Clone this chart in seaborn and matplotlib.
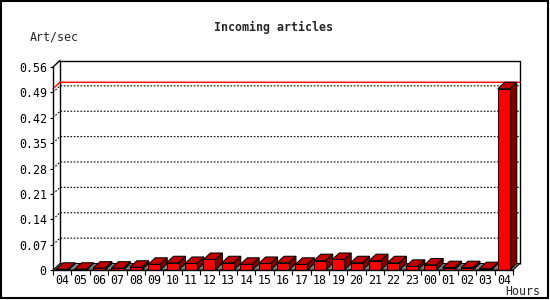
import numpy as np
import pandas as pd
import matplotlib
matplotlib.use("Agg")
import matplotlib.pyplot as plt
from matplotlib.patches import Polygon, Rectangle
import seaborn as sns

# ---- data ----
hours = ["04", "05", "06", "07", "08", "09", "10", "11", "12", "13", "14", "15", "16",
         "17", "18", "19", "20", "21", "22", "23", "00", "01", "02", "03", "04"]
values = [0.002, 0.002, 0.005, 0.005, 0.0075, 0.0157, 0.020, 0.018, 0.029, 0.020, 0.0157,
          0.018, 0.020, 0.0157, 0.0257, 0.029, 0.020, 0.0257, 0.020, 0.0101, 0.0138,
          0.0064, 0.0064, 0.0037, 0.50]
yticks = [0, 0.07, 0.14, 0.21, 0.28, 0.35, 0.42, 0.49, 0.56]
ytick_labels = ["0", "0.07", "0.14", "0.21", "0.28", "0.35", "0.42", "0.49", "0.56"]
title = "Incoming articles"
ylabel = "Art/sec"
xlabel = "Hours"

sns.set_style("white")
plt.rcParams["font.family"] = ["DejaVu Sans Mono", "DejaVu Sans"]

W, H = 550, 300
fig = plt.figure(figsize=(W / 100, H / 100), dpi=100)
fig.patch.set_facecolor("white")
ax = fig.add_axes([53 / W, (H - 270) / H, 460 / W, 203 / H])
ax.set_facecolor("none")

n = len(values)
ymax = 0.56
ax.set_xlim(-0.5, n - 0.5)
ax.set_ylim(0, ymax)

# depth offsets (data units) ~7px right, ~6.5px up
dx = 7 / (460 / n)
dy = 6.5 / (203 / ymax)

df = pd.DataFrame({"slot": np.arange(n), "value": values})
sns.barplot(data=df, x="slot", y="value", color="#ff0000", saturation=1,
            width=0.65, edgecolor="black", linewidth=0.75, ax=ax, zorder=3)

# 3D faces derived from drawn bars
for p in list(ax.patches):
    x0 = p.get_x(); w = p.get_width(); h = p.get_height()
    top = Polygon([(x0, h), (x0 + w, h), (x0 + w + dx, h + dy), (x0 + dx, h + dy)],
                  closed=True, facecolor="#c00000", edgecolor="black", lw=0.75,
                  zorder=2.5, clip_on=False)
    side = Polygon([(x0 + w, 0), (x0 + w + dx, dy), (x0 + w + dx, h + dy), (x0 + w, h)],
                   closed=True, facecolor="#800000", edgecolor="black", lw=0.75,
                   zorder=2.5, clip_on=False)
    ax.add_patch(side)
    ax.add_patch(top)

xl, xr = -0.5, n - 0.5
# floor
ax.add_patch(Polygon([(xl, 0), (xr, 0), (xr + dx, dy), (xl + dx, dy)], closed=True,
                     facecolor="#808080", edgecolor="black", lw=0.75, zorder=1.5,
                     clip_on=False))
# back wall frame
ax.plot([xl + dx, xl + dx, xr + dx, xr + dx], [dy, ymax + dy, ymax + dy, dy],
        color="black", lw=1.0, zorder=1, clip_on=False, solid_capstyle="butt")
ax.plot([xl, xl + dx], [ymax, ymax + dy], color="black", lw=1.0, zorder=1, clip_on=False)

# dotted grid lines on back wall
for v in yticks[1:-1]:
    ax.plot([xl, xl + dx, xr + dx], [v, v + dy, v + dy], color="black", lw=0.8,
            linestyle=(0, (1.5, 1.5)), zorder=1, clip_on=False)

# max line
vmax = max(values)
ax.plot([xl, xl + dx, xr + dx], [vmax, vmax + dy, vmax + dy], color="#ff0000", lw=1.0,
        zorder=1.2, clip_on=False)

# spines
for s in ["top", "right"]:
    ax.spines[s].set_visible(False)
for s in ["left", "bottom"]:
    ax.spines[s].set_color("black")
    ax.spines[s].set_linewidth(1.0)
    ax.spines[s].set_zorder(4)

# ticks
ax.set_yticks(yticks)
ax.set_yticklabels(ytick_labels)
ax.set_xticks(np.arange(n))
ax.set_xticklabels(hours)
ax.set_xticks(np.arange(n + 1) - 0.5, minor=True)
ax.tick_params(axis="y", which="major", left=True, length=2.5, width=0.8, pad=2,
               labelsize=8.4, colors="black", direction="out")
ax.tick_params(axis="x", which="major", bottom=True, length=0, pad=3.2, labelsize=8.4,
               colors="black")
ax.tick_params(axis="x", which="minor", bottom=True, length=3.8, width=0.8,
               colors="black", direction="out")
ax.set_xlabel("")
ax.set_ylabel("")

# texts
fig.text(273.5 / W, 1 - 27.5 / H, title, ha="center", va="center", fontsize=8.4,
         fontweight="bold")
fig.text(30 / W, 1 - 37.5 / H, ylabel, ha="left", va="center", fontsize=8.4)
fig.text(505 / W, 1 - 291.5 / H, xlabel, ha="left", va="center", fontsize=8.4)

# outer border
fig.add_artist(Rectangle((1 / W, 2.5 / H), 546.5 / W, 296.5 / H, transform=fig.transFigure,
                         fill=False, edgecolor="black", lw=1.5))

fig.savefig("out.png", dpi=100, facecolor="white")
